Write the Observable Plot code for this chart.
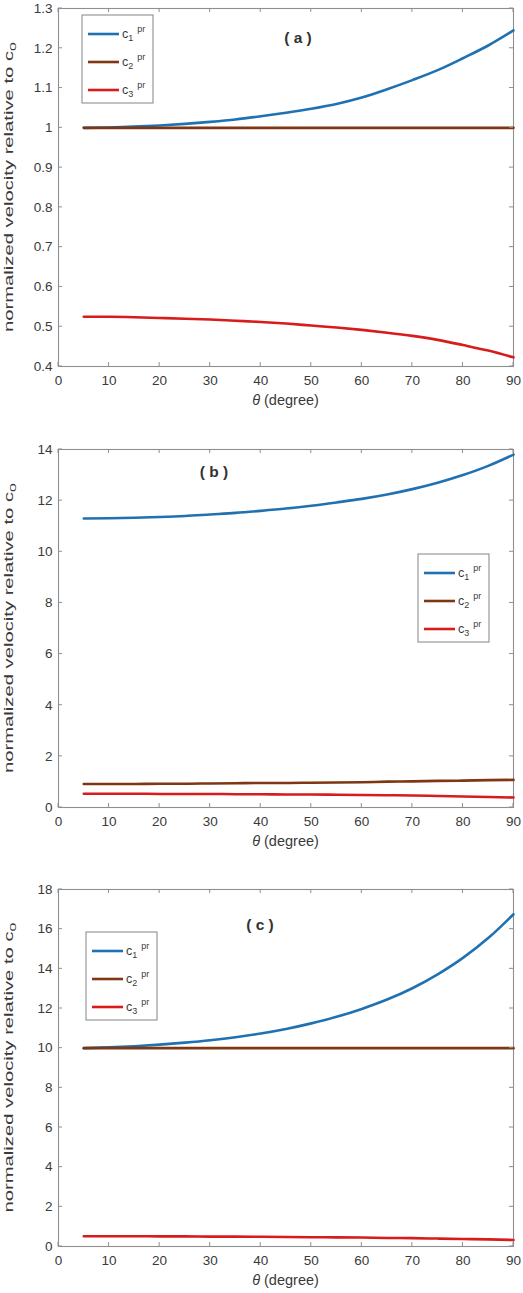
<!DOCTYPE html>
<html>
<head>
<meta charset="utf-8">
<script src="https://cdn.jsdelivr.net/npm/d3@7"></script>
<script src="https://cdn.jsdelivr.net/npm/@observablehq/plot@0.6"></script>
<style>
  html, body { margin: 0; padding: 0; background: #fff; }
  #root svg { display: block; }
</style>
</head>
<body>
<div id="root"></div>
<script>
// ---------- data ----------
const theta = [5, 10, 15, 20, 25, 30, 35, 40, 45, 50, 55, 60, 65, 70, 75, 80, 85, 90];

const a_c1 = [1.000, 1.001, 1.003, 1.006, 1.010, 1.015, 1.021, 1.029, 1.038, 1.048, 1.060, 1.076, 1.097, 1.120, 1.145, 1.175, 1.207, 1.245];
const a_c2 = [1.000, 1.000, 1.000, 1.000, 1.000, 1.000, 1.000, 1.000, 1.000, 1.000, 1.000, 1.000, 1.000, 1.000, 1.000, 1.000, 1.000, 1.000];
const a_c3 = [0.525, 0.525, 0.524, 0.522, 0.520, 0.518, 0.515, 0.512, 0.508, 0.503, 0.498, 0.492, 0.485, 0.477, 0.467, 0.454, 0.440, 0.423];

const b_c1 = [11.30, 11.31, 11.33, 11.36, 11.40, 11.46, 11.52, 11.60, 11.69, 11.80, 11.93, 12.07, 12.24, 12.45, 12.70, 13.00, 13.36, 13.80];
const b_c2 = [0.92, 0.92, 0.92, 0.93, 0.93, 0.94, 0.95, 0.96, 0.96, 0.97, 0.98, 0.99, 1.01, 1.02, 1.04, 1.05, 1.07, 1.08];
const b_c3 = [0.54, 0.54, 0.54, 0.53, 0.53, 0.53, 0.52, 0.52, 0.51, 0.51, 0.50, 0.49, 0.48, 0.47, 0.45, 0.43, 0.41, 0.39];

const c_c1 = [10.00, 10.04, 10.10, 10.18, 10.28, 10.40, 10.55, 10.74, 10.97, 11.25, 11.58, 11.98, 12.45, 13.02, 13.72, 14.55, 15.55, 16.75];
const c_c2 = [10, 10, 10, 10, 10, 10, 10, 10, 10, 10, 10, 10, 10, 10, 10, 10, 10, 10];
const c_c3 = [0.52, 0.52, 0.52, 0.51, 0.51, 0.50, 0.50, 0.49, 0.48, 0.47, 0.46, 0.45, 0.43, 0.42, 0.40, 0.38, 0.36, 0.33];

const seriesNames = ["1", "2", "3"];           // c_1^pr, c_2^pr, c_3^pr
const seriesColors = ["#1f71b2", "#7f3612", "#d81b1b"];
const panelTags = ["( a )", "( b )", "( c )"];

const xTicks = [0, 10, 20, 30, 40, 50, 60, 70, 80, 90];
const yTicksA = [0.4, 0.5, 0.6, 0.7, 0.8, 0.9, 1.0, 1.1, 1.2, 1.3];
const yTicksB = [0, 2, 4, 6, 8, 10, 12, 14];
const yTicksC = [0, 2, 4, 6, 8, 10, 12, 14, 16, 18];

const xLabel = "(degree)";
const yLabelMain = "normalized velocity relative to c";
const yLabelSub = "0";

// ---------- drawing ----------
const FONT = "'Liberation Sans', Arial, Helvetica, sans-serif";
const TEXT = "#3a3a3a";
const AXIS = "#8f8f8f";
const W = 523, ML = 58, MR = 10, TK = 4;

function fmt(d) { return String(Math.round(d * 10) / 10); }

function panel(cfg) {
  const marks = [
    Plot.frame({stroke: AXIS, strokeWidth: 1.1}),
    Plot.axisX(xTicks, {anchor: "bottom", tickSize: 0, tickPadding: 9, label: null, fontSize: 13.5, color: TEXT}),
    Plot.axisY(cfg.yTicks, {anchor: "left", tickSize: 0, tickPadding: 6, label: null, tickFormat: fmt, fontSize: 13.5, color: TEXT})
  ];
  cfg.series.forEach((arr, k) => {
    marks.push(Plot.line(arr, {x: (d, i) => theta[i], y: d => d, stroke: seriesColors[k], strokeWidth: 2.6, curve: "monotone-x"}));
  });
  const svg = Plot.plot({
    width: W, height: cfg.height,
    marginLeft: ML, marginRight: MR, marginTop: cfg.mt, marginBottom: cfg.mb,
    style: {fontFamily: FONT, fontSize: "13.5px", color: TEXT, background: "white", overflow: "visible"},
    x: {domain: [0, 90]},
    y: {domain: cfg.yDomain},
    marks
  });
  const s = d3.select(svg);
  const top = cfg.mt, bottom = cfg.height - cfg.mb, left = ML, right = W - MR;
  const sx = svg.scale("x"), sy = svg.scale("y");

  // inward (MATLAB-style) ticks on all four sides, placed with the plot's own scales
  const tg = s.append("g").attr("stroke", AXIS).attr("stroke-width", 1);
  xTicks.forEach(v => {
    const px = sx.apply(v);
    tg.append("line").attr("x1", px).attr("x2", px).attr("y1", bottom).attr("y2", bottom - TK);
    tg.append("line").attr("x1", px).attr("x2", px).attr("y1", top).attr("y2", top + TK);
  });
  cfg.yTicks.forEach(v => {
    const py = sy.apply(v);
    tg.append("line").attr("x1", left).attr("x2", left + TK).attr("y1", py).attr("y2", py);
    tg.append("line").attr("x1", right).attr("x2", right - TK).attr("y1", py).attr("y2", py);
  });

  // y label
  const yl = s.append("text")
    .attr("transform", `translate(13,${(top + bottom) / 2}) rotate(-90)`)
    .attr("text-anchor", "middle")
    .attr("font-family", FONT).attr("font-size", 12).attr("fill", TEXT)
    .attr("textLength", 290).attr("lengthAdjust", "spacingAndGlyphs");
  yl.append("tspan").text(yLabelMain);
  yl.append("tspan").attr("font-size", 9.5).attr("dy", 3).text(yLabelSub);

  // x label
  const xl = s.append("text")
    .attr("x", (left + right) / 2).attr("y", bottom + 39)
    .attr("text-anchor", "middle")
    .attr("font-family", FONT).attr("font-size", 14.5).attr("fill", TEXT);
  xl.append("tspan").attr("font-style", "italic").text("θ");
  xl.append("tspan").text(" " + xLabel);

  // panel tag
  s.append("text")
    .attr("x", cfg.tag[0]).attr("y", cfg.tag[1])
    .attr("text-anchor", "middle")
    .attr("font-family", FONT).attr("font-size", 15.5).attr("font-weight", "bold").attr("fill", "#333")
    .text(panelTags[cfg.idx]);

  // legend
  const [lx, ly] = cfg.legend;
  const g = s.append("g");
  g.append("rect").attr("x", lx).attr("y", ly).attr("width", 71).attr("height", 88)
    .attr("fill", "white").attr("stroke", AXIS).attr("stroke-width", 1.1);
  seriesNames.forEach((nm, k) => {
    const yy = ly + 19 + k * 28;
    g.append("line").attr("x1", lx + 6).attr("x2", lx + 37).attr("y1", yy).attr("y2", yy)
      .attr("stroke", seriesColors[k]).attr("stroke-width", 2.6);
    const t = g.append("text").attr("x", lx + 40).attr("y", yy + 4)
      .attr("text-anchor", "start")
      .attr("font-family", FONT).attr("font-size", 12.5).attr("fill", TEXT);
    t.append("tspan").text("c");
    t.append("tspan").attr("font-size", 9).attr("dy", 3).text(nm);
    t.append("tspan").attr("font-size", 9).attr("dx", 4).attr("dy", -9).text("pr");
  });
  return svg;
}

const root = document.getElementById("root");
root.appendChild(panel({idx: 0, series: [a_c1, a_c2, a_c3], yDomain: [0.4, 1.3], yTicks: yTicksA,
  height: 441, mt: 8, mb: 75, tag: [298, 43], legend: [82, 15]}));
root.appendChild(panel({idx: 1, series: [b_c1, b_c2, b_c3], yDomain: [0, 14], yTicks: yTicksB,
  height: 441, mt: 8, mb: 75, tag: [214, 36], legend: [418, 113]}));
root.appendChild(panel({idx: 2, series: [c_c1, c_c2, c_c3], yDomain: [0, 18], yTicks: yTicksC,
  height: 411, mt: 7, mb: 47, tag: [260, 48], legend: [86, 50]}));
</script>
</body>
</html>
